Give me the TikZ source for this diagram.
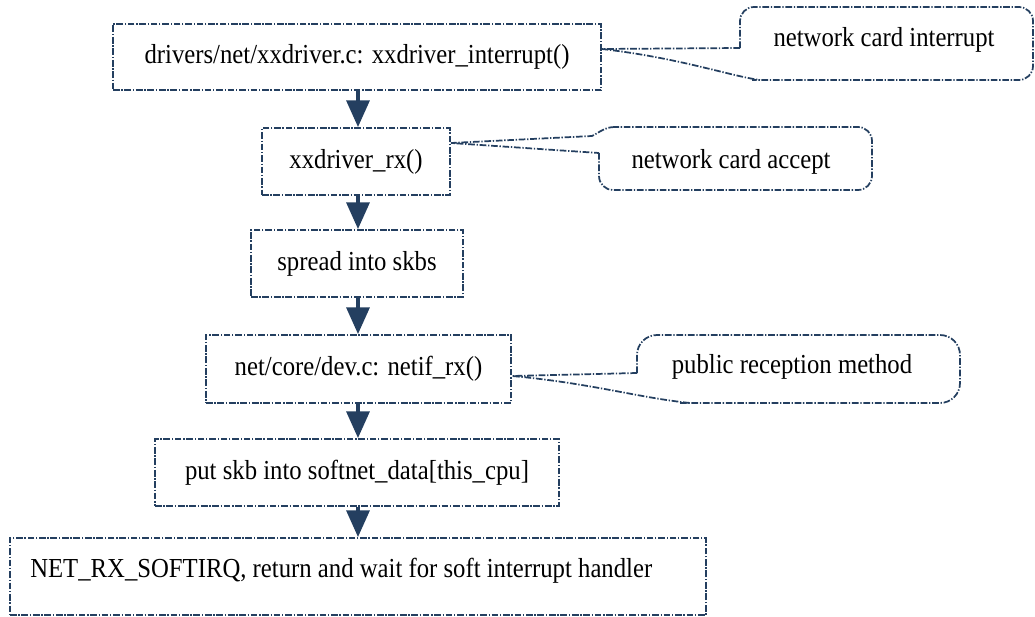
\documentclass[tikz,border=0pt]{standalone}
\usepackage{fontspec}
\setmainfont[FakeStretch=0.9]{Liberation Serif}
\usetikzlibrary{arrows.meta,calc}
\definecolor{navy}{HTML}{243F60}
\begin{document}
\begin{tikzpicture}[x=0.75pt,y=-0.75pt,
  lbl/.style={font=\fontsize{20.6}{24}\selectfont},
  box/.style={draw=navy,line width=1.3pt,dash pattern=on 5pt off 1.3pt on 1pt off 1.3pt,inner sep=0pt,lbl},
  frame/.style={draw=navy,line width=1.3pt,dash pattern=on 5pt off 1.3pt on 1pt off 1.3pt},
  txt/.style={inner sep=0pt,lbl},
  flow/.style={draw=navy,line width=3pt,-{Triangle[width=17pt,length=20pt]}}]
\useasboundingbox (0,0) rectangle (1035,617);
\fill[white] (0,0) rectangle (1035,617);
\coordinate (ax) at (358,0);
% boxes
\node[box,minimum width=366pt,minimum height=49.5pt] (b1) at (357,57) {drivers/net/xxdriver.c: xxdriver\_interrupt()\hspace{4pt}};
\node[box,minimum width=141pt,minimum height=50.25pt] (b2) at (356,161.5) {xxdriver\_rx()\hspace{9pt}};
\node[box,minimum width=159pt,minimum height=50.25pt] (b3) at (357,263.5) {spread into skbs};
\node[box,minimum width=228.75pt,minimum height=51pt] (b4) at (358.5,369) {net/core/dev.c: netif\_rx()\hspace{9pt}};
\node[box,minimum width=303pt,minimum height=50.25pt] (b5) at (357,472.5) {put skb into softnet\_data[this\_cpu]};
\node[box,minimum width=522pt,minimum height=57.75pt] (b6) at (358,576.5) {};
\node[txt,anchor=base west] (t6) at (30,577) {NET\_RX\_SOFTIRQ, return and wait for soft interrupt handler};
% arrows
\draw[flow] (b1.south -| ax) -- (b2.north -| ax);
\draw[flow] (b2.south -| ax) -- (b3.north -| ax);
\draw[flow] (b3.south -| ax) -- (b4.north -| ax);
\draw[flow] (b4.south -| ax) -- (b5.north -| ax);
\draw[flow] (b5.south -| ax) -- (b6.north -| ax);
% callout 1
\node[txt,anchor=base] (c1) at (884,47) {network card interrupt};
\coordinate (p1) at (602,49);
\draw[frame,rounded corners=10.5pt] (740,48) -- (740,7) -- (1033,7) -- (1033,80) -- (752,80);
\draw[frame] (740,48) -- (p1) .. controls (680,58) and (730,76) .. (760,80);
% callout 2
\node[txt,anchor=base] (c2) at (731,168) {network card accept};
\coordinate (p2) at (451,143);
\draw[frame,rounded corners=10.5pt] (599,153) -- (599,190) -- (872,190) -- (872,127) -- (615,127);
\draw[frame] (615,127) .. controls (605,127) and (600,132) .. (592,136) -- (p2) -- (599,153);
% callout 3
\node[txt,anchor=base] (c3) at (792,373) {public reception method};
\coordinate (p3) at (512,376);
\draw[frame,rounded corners=15pt] (637,373) -- (637,335) -- (960,335) -- (960,403) -- (680,403);
\draw[frame] (637,373) -- (p3) .. controls (590,383) and (640,398) .. (690,403);
\end{tikzpicture}
\end{document}
